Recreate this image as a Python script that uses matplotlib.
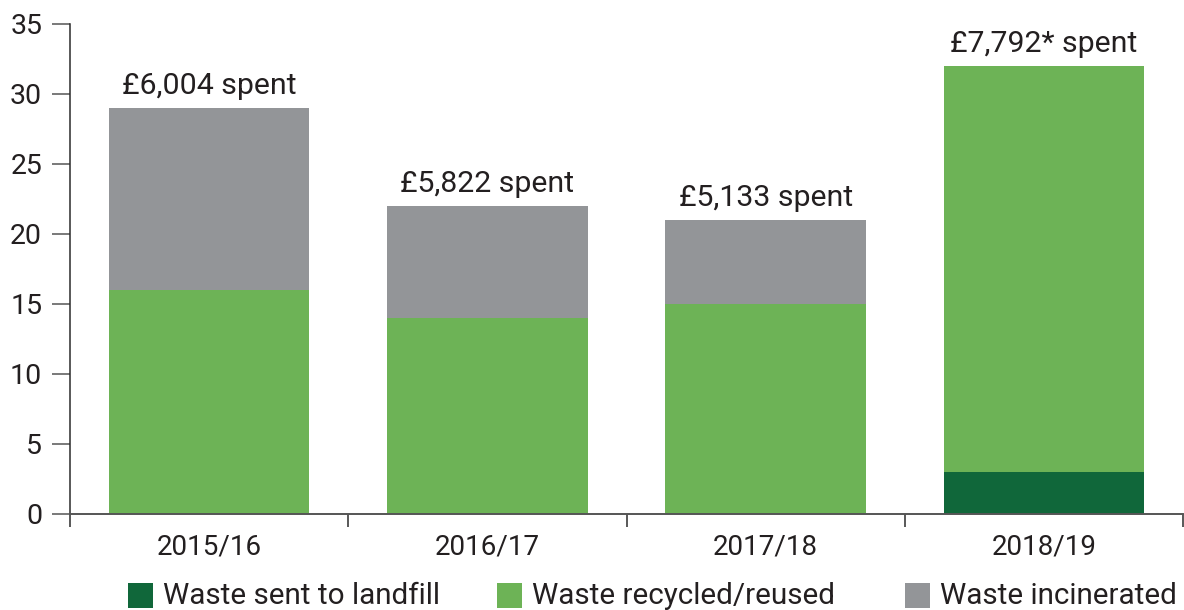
import matplotlib
matplotlib.use("Agg")
import matplotlib.pyplot as plt
from matplotlib.patches import Rectangle

plt.rcParams['font.family'] = ['Roboto', 'DejaVu Sans']

years = ["2015/16", "2016/17", "2017/18", "2018/19"]
landfill = [0, 0, 0, 3]
recycled = [16, 14, 15, 29]
incinerated = [13, 8, 6, 0]
spend_labels = ["£6,004 spent", "£5,822 spent", "£5,133 spent", "£7,792* spent"]
series_names = ["Waste sent to landfill", "Waste recycled/reused", "Waste incinerated"]

c_landfill = "#10673a"
c_recycled = "#6db356"
c_incin = "#939598"
axis_col = "#2b2b2b"
text_col = "#231f20"

W, H = 1184, 610
fig = plt.figure(figsize=(W / 100, H / 100), dpi=100)
ax = fig.add_axes([70 / W, (H - 514) / H, (1183 - 70) / W, 490 / H])

x = range(len(years))
bw = 0.72
bottom2 = [a + b for a, b in zip(landfill, recycled)]
totals = [a + b for a, b in zip(bottom2, incinerated)]
ax.bar(x, landfill, width=bw, color=c_landfill, linewidth=0)
ax.bar(x, recycled, width=bw, bottom=landfill, color=c_recycled, linewidth=0)
ax.bar(x, incinerated, width=bw, bottom=bottom2, color=c_incin, linewidth=0)

for xi, t, lab in zip(x, totals, spend_labels):
    ax.annotate(lab, (xi, t), xytext=(0, 6), textcoords="offset points",
                ha="center", va="bottom", fontsize=21.8, color=text_col)

ax.set_xlim(-0.5, len(years) - 0.5)
ax.set_ylim(0, 35)
ax.set_yticks(range(0, 36, 5))
ax.set_xticks(list(x))
ax.set_xticklabels(years)
ax.set_xticks([i - 0.5 for i in range(len(years) + 1)], minor=True)

for s in ["top", "right"]:
    ax.spines[s].set_visible(False)
ax.spines["left"].set_color(axis_col)
ax.spines["bottom"].set_color("#555555")
ax.spines["left"].set_linewidth(1.1)
ax.spines["bottom"].set_linewidth(1.4)

ax.tick_params(axis="y", length=13, width=1.1, color="#555555", pad=7,
               labelsize=20.5, labelcolor=text_col)
ax.tick_params(axis="x", which="major", length=0, pad=14,
               labelsize=20, labelcolor=text_col)
ax.tick_params(axis="x", which="minor", length=9, width=1.1, color=axis_col)

# legend drawn along the bottom edge
handles = [(128, c_landfill), (497, c_recycled), (905, c_incin)]
for (px, col), name in zip(handles, series_names):
    fig.add_artist(Rectangle((px / W, (H - 608) / H), 25 / W, 25 / H,
                             transform=fig.transFigure, color=col, lw=0))
    fig.text((px + 35) / W, (H - 595.5) / H, name, ha="left", va="center",
             fontsize=21.3, color=text_col)

fig.savefig("out.png", dpi=100)
